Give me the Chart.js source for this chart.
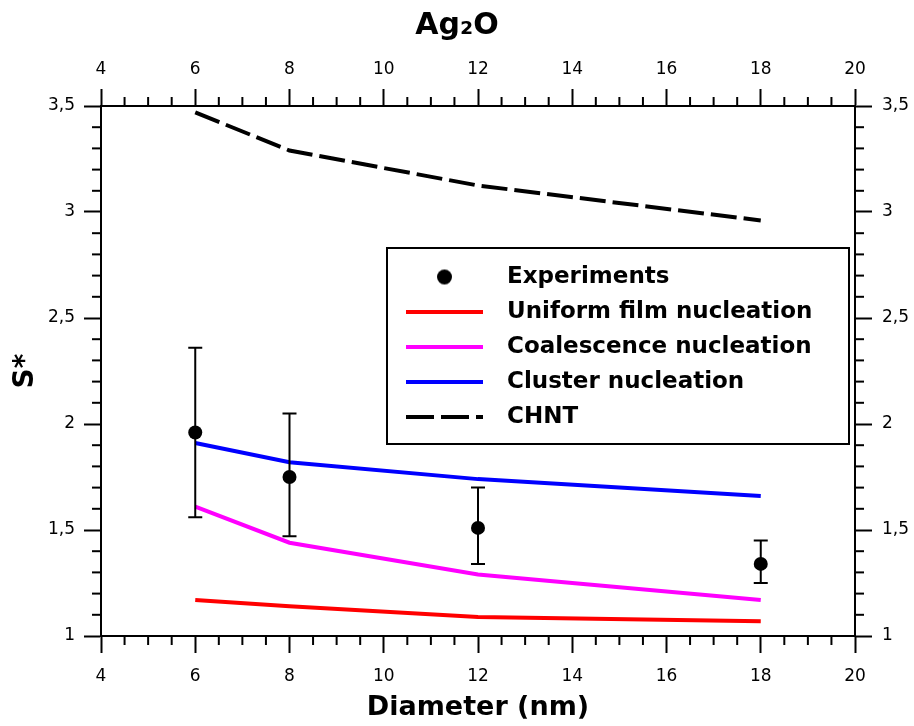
<!DOCTYPE html>
<html><head><meta charset="utf-8">
<script src="https://cdn.jsdelivr.net/npm/chart.js@4.4.1/dist/chart.umd.min.js"></script>
<style>html,body{margin:0;padding:0;background:#fff;}canvas{display:block;}</style>
</head><body>
<canvas id="c" width="914" height="726"></canvas>
<script>
// ---- data ----
const diameters = [6, 8, 12, 18];
const expValues = [1.96, 1.75, 1.51, 1.34];
const expLow = [1.56, 1.47, 1.34, 1.25];
const expHigh = [2.36, 2.05, 1.70, 1.45];
const uniformFilm = [1.17, 1.14, 1.09, 1.07];
const coalescence = [1.61, 1.44, 1.29, 1.17];
const cluster = [1.91, 1.82, 1.74, 1.66];
const chnt = [3.47, 3.29, 3.125, 2.96];
const seriesLabels = ['Experiments', 'Uniform film nucleation', 'Coalescence nucleation', 'Cluster nucleation', 'CHNT'];
const xMajorTicks = [4, 6, 8, 10, 12, 14, 16, 18, 20];
const xTickLabels = ['4', '6', '8', '10', '12', '14', '16', '18', '20'];
const yMajorTicks = [1, 1.5, 2, 2.5, 3, 3.5];
const yTickLabels = ['1', '1,5', '2', '2,5', '3', '3,5'];

// ---- styling ----
const FONT = "'DejaVu Sans', Verdana, sans-serif";
Chart.defaults.font.family = FONT;
Chart.defaults.color = '#000';
const COLORS = ['#000000', '#ff0000', '#ff00ff', '#0000ff', '#000000'];
const LINE_W = 4;
const CHNT_DASH = [26, 7];
const MAJOR_LEN = 17, MINOR_LEN = 9;
const TICK_FONT = 17;
const LEGEND_BOX = {x: 387, y: 248, w: 462, h: 196};

const findIdx = (list, v) => list.findIndex(m => Math.abs(m - v) < 1e-6);
const toXY = arr => diameters.map((d, i) => ({x: d, y: arr[i]}));

function lineSymbol(color, dash) {
  const c = document.createElement('canvas'); c.width = 77; c.height = 8;
  const g = c.getContext('2d'); g.strokeStyle = color; g.lineWidth = LINE_W; g.setLineDash(dash);
  g.beginPath(); g.moveTo(0, 4); g.lineTo(77, 4); g.stroke(); return c;
}
function dotSymbol(r) {
  const c = document.createElement('canvas'); c.width = c.height = 2 * r + 2;
  const g = c.getContext('2d'); g.fillStyle = '#000';
  g.beginPath(); g.arc(r + 1, r + 1, r, 0, Math.PI * 2); g.fill(); return c;
}
const symbols = [dotSymbol(7.5), lineSymbol(COLORS[1], []), lineSymbol(COLORS[2], []), lineSymbol(COLORS[3], []), lineSymbol(COLORS[4], [28, 7])];

function gridOpts(majors) {
  return {
    display: true, drawOnChartArea: false, drawTicks: true, tickLength: MAJOR_LEN, tickWidth: 2,
    tickColor: ctx => (ctx.tick && findIdx(majors, ctx.tick.value) >= 0) ? '#000' : 'rgba(0,0,0,0)'
  };
}
function xAxis(pos, pad, h, title) {
  return {
    type: 'linear', position: pos, min: 4, max: 20,
    ticks: {stepSize: 0.5, autoSkip: false, maxRotation: 0, padding: pad, color: '#000', font: {size: TICK_FONT},
      callback: v => { const i = findIdx(xMajorTicks, v); return i < 0 ? '' : xTickLabels[i]; }},
    grid: gridOpts(xMajorTicks), border: {display: true, color: '#000', width: 2},
    title: title ? {display: true, text: title, color: '#000', font: {size: 27, weight: 'bold'}, padding: {top: 0, bottom: 2}} : {display: false},
    afterFit: s => { s.height = h; }
  };
}
function yAxis(pos, pad, w, title) {
  return {
    type: 'linear', position: pos, min: 1, max: 3.5,
    ticks: {stepSize: 0.1, autoSkip: false, padding: pad, color: '#000', font: {size: TICK_FONT},
      callback: v => { const i = findIdx(yMajorTicks, v); return i < 0 ? '' : yTickLabels[i]; }},
    grid: gridOpts(yMajorTicks), border: {display: true, color: '#000', width: 2},
    title: title ? {display: true, text: title, color: '#000', font: {size: 28, weight: 'bold'}, padding: {top: 9, bottom: 0}} : {display: false},
    afterFit: s => { s.width = w; }
  };
}

const decorations = {
  id: 'decorations',
  afterLayout(chart) {
    const lg = chart.legend; if (!lg) return;
    lg.left = LEGEND_BOX.x - 5.5; lg.top = LEGEND_BOX.y + 5.5;
    lg.right = chart.width; lg.bottom = chart.height;
    lg.width = lg.right - lg.left; lg.height = lg.bottom - lg.top;
  },
  beforeDatasetDraw(chart, args) {
    if (args.index !== 0) return;
    const xs = chart.scales.x, ys = chart.scales.y, ctx = chart.ctx;
    ctx.save(); ctx.strokeStyle = '#000'; ctx.lineWidth = 2;
    diameters.forEach((d, i) => {
      const px = xs.getPixelForValue(d), lo = ys.getPixelForValue(expLow[i]), hi = ys.getPixelForValue(expHigh[i]);
      ctx.beginPath();
      ctx.moveTo(px, lo); ctx.lineTo(px, hi);
      ctx.moveTo(px - 7, lo); ctx.lineTo(px + 7, lo);
      ctx.moveTo(px - 7, hi); ctx.lineTo(px + 7, hi);
      ctx.stroke();
    });
    ctx.restore();
  },
  afterDraw(chart) {
    const ctx = chart.ctx;
    ctx.save(); ctx.strokeStyle = '#000'; ctx.lineWidth = 2;
    const defs = [['x', xMajorTicks], ['x2', xMajorTicks], ['y', yMajorTicks], ['y2', yMajorTicks]];
    defs.forEach(([id, majors]) => {
      const s = chart.scales[id];
      s.ticks.forEach(t => {
        if (findIdx(majors, t.value) >= 0) return;
        const p = s.getPixelForValue(t.value);
        ctx.beginPath();
        if (id === 'x') { ctx.moveTo(p, s.top); ctx.lineTo(p, s.top + MINOR_LEN); }
        else if (id === 'x2') { ctx.moveTo(p, s.bottom); ctx.lineTo(p, s.bottom - MINOR_LEN); }
        else if (id === 'y') { ctx.moveTo(s.right, p); ctx.lineTo(s.right - MINOR_LEN, p); }
        else { ctx.moveTo(s.left, p); ctx.lineTo(s.left + MINOR_LEN, p); }
        ctx.stroke();
      });
    });
    ctx.strokeRect(LEGEND_BOX.x, LEGEND_BOX.y, LEGEND_BOX.w, LEGEND_BOX.h);
    ctx.restore();
  }
};

new Chart(document.getElementById('c'), {
  type: 'line',
  data: {
    datasets: [
      {label: seriesLabels[0], data: toXY(expValues), showLine: false, pointRadius: 7, pointHoverRadius: 7,
       pointBackgroundColor: COLORS[0], pointBorderWidth: 0, borderColor: COLORS[0], backgroundColor: COLORS[0]},
      {label: seriesLabels[1], data: toXY(uniformFilm), borderColor: COLORS[1], borderWidth: LINE_W, pointRadius: 0, tension: 0},
      {label: seriesLabels[2], data: toXY(coalescence), borderColor: COLORS[2], borderWidth: LINE_W, pointRadius: 0, tension: 0},
      {label: seriesLabels[3], data: toXY(cluster), borderColor: COLORS[3], borderWidth: LINE_W, pointRadius: 0, tension: 0},
      {label: seriesLabels[4], data: toXY(chnt), borderColor: COLORS[4], borderWidth: LINE_W, borderDash: CHNT_DASH, pointRadius: 0, tension: 0}
    ]
  },
  options: {
    responsive: false, animation: false, devicePixelRatio: 1,
    layout: {padding: 0},
    scales: {
      x: xAxis('bottom', 13, 90, 'Diameter (nm)'),
      x2: xAxis('top', 9, 62, null),
      y: yAxis('left', 9, 101, 'S*'),
      y2: yAxis('right', 10, 59, null)
    },
    plugins: {
      title: {display: true, text: 'Ag₂O', color: '#000', font: {size: 30, weight: 'bold'}, padding: {top: 8, bottom: 0}},
      tooltip: {enabled: false},
      legend: {
        display: true, position: 'chartArea', align: 'start',
        labels: {
          usePointStyle: true, pointStyleWidth: 102, boxHeight: 23, padding: 12, color: '#000',
          font: {size: 23, weight: 'bold'},
          generateLabels: chart => chart.data.datasets.map((ds, i) => ({
            text: ds.label, pointStyle: symbols[i], fillStyle: COLORS[i], strokeStyle: COLORS[i],
            lineWidth: 0, hidden: false, datasetIndex: i
          }))
        }
      }
    }
  },
  plugins: [decorations]
});
</script>
</body></html>
